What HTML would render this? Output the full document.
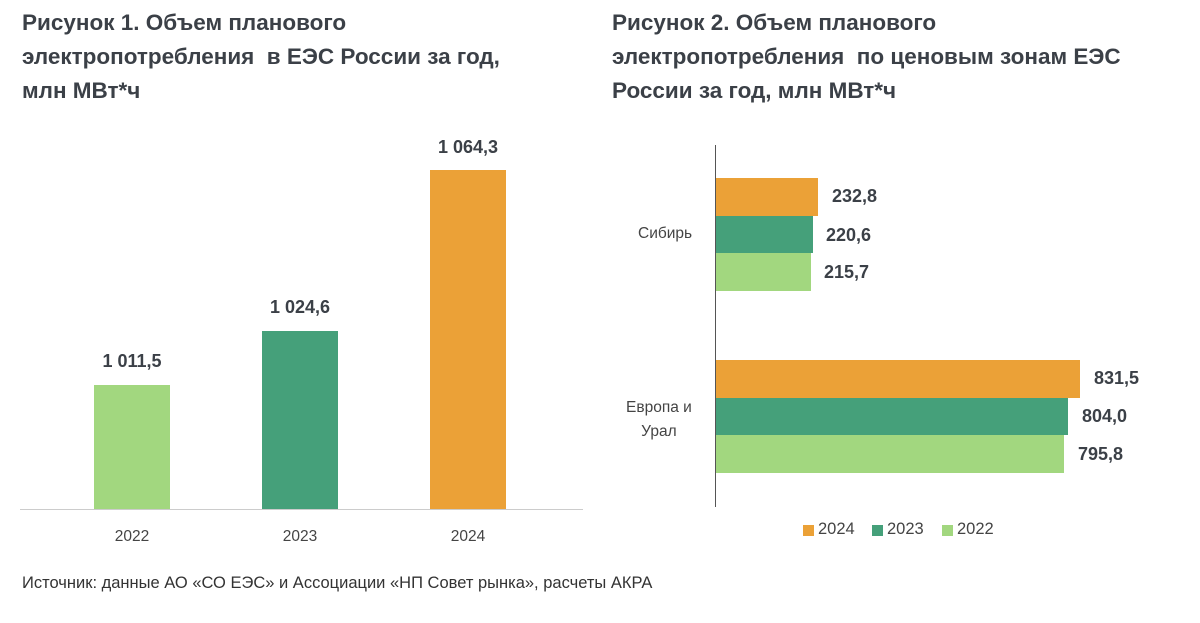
<!DOCTYPE html>
<html><head><meta charset="utf-8"><style>
body{margin:0;width:1200px;height:623px;background:#fff;position:relative;overflow:hidden;font-family:"Liberation Sans","DejaVu Sans",sans-serif;color:#3b4047}
.t{position:absolute;font-weight:bold;font-size:22.5px;line-height:34px;white-space:nowrap}
.b{position:absolute}
.lab{position:absolute;font-weight:bold;font-size:18px;color:#3b4047;white-space:nowrap}
.s{position:absolute;font-size:15.5px;color:#444;white-space:nowrap}
</style></head><body>
<div class="t" style="left:22px;top:6px">Рисунок 1. Объем планового<br>электропотребления&nbsp; в ЕЭС России за год,<br>млн МВт*ч</div>
<div class="t" style="left:612px;top:6px">Рисунок 2. Объем планового<br>электропотребления&nbsp; по ценовым зонам ЕЭС<br>России за год, млн МВт*ч</div>

<div class="b" style="left:20px;top:509px;width:563px;height:1px;background:#ccc"></div>
<div class="b" style="left:94px;top:385px;width:76px;height:124px;background:#a2d77f"></div>
<div class="b" style="left:262px;top:331px;width:76px;height:178px;background:#45a07a"></div>
<div class="b" style="left:430px;top:170px;width:76px;height:339px;background:#eba137"></div>
<div class="lab" style="left:82px;width:100px;text-align:center;top:351px">1 011,5</div>
<div class="lab" style="left:250px;width:100px;text-align:center;top:297px">1 024,6</div>
<div class="lab" style="left:418px;width:100px;text-align:center;top:137px">1 064,3</div>
<div class="s" style="left:94px;width:76px;text-align:center;top:528px">2022</div>
<div class="s" style="left:262px;width:76px;text-align:center;top:528px">2023</div>
<div class="s" style="left:430px;width:76px;text-align:center;top:528px">2024</div>

<div class="b" style="left:715px;top:145px;width:1px;height:362px;background:#555"></div>
<div class="b" style="left:716px;top:178px;width:102px;height:38px;background:#eba137"></div>
<div class="b" style="left:716px;top:216px;width:97px;height:37px;background:#45a07a"></div>
<div class="b" style="left:716px;top:253px;width:95px;height:38px;background:#a2d77f"></div>
<div class="b" style="left:716px;top:360px;width:364px;height:38px;background:#eba137"></div>
<div class="b" style="left:716px;top:398px;width:352px;height:37px;background:#45a07a"></div>
<div class="b" style="left:716px;top:435px;width:348px;height:38px;background:#a2d77f"></div>
<div class="lab" style="left:832px;top:186px">232,8</div>
<div class="lab" style="left:826px;top:225px">220,6</div>
<div class="lab" style="left:824px;top:262px">215,7</div>
<div class="lab" style="left:1094px;top:368px">831,5</div>
<div class="lab" style="left:1082px;top:406px">804,0</div>
<div class="lab" style="left:1078px;top:444px">795,8</div>
<div class="s" style="left:638px;top:225px">Сибирь</div>
<div class="s" style="left:626px;top:396px;text-align:center;line-height:24px">Европа и<br>Урал</div>
<div class="b" style="left:803px;top:525px;width:11px;height:11px;background:#eba137"></div>
<div class="s" style="left:818px;top:520px;font-size:16.5px">2024</div>
<div class="b" style="left:872px;top:525px;width:11px;height:11px;background:#45a07a"></div>
<div class="s" style="left:887px;top:520px;font-size:16.5px">2023</div>
<div class="b" style="left:942px;top:525px;width:11px;height:11px;background:#a2d77f"></div>
<div class="s" style="left:957px;top:520px;font-size:16.5px">2022</div>

<div class="s" style="left:22px;top:574px;font-size:16.5px;color:#333">Источник: данные АО «СО ЕЭС» и Ассоциации «НП Совет рынка», расчеты АКРА</div>
</body></html>
